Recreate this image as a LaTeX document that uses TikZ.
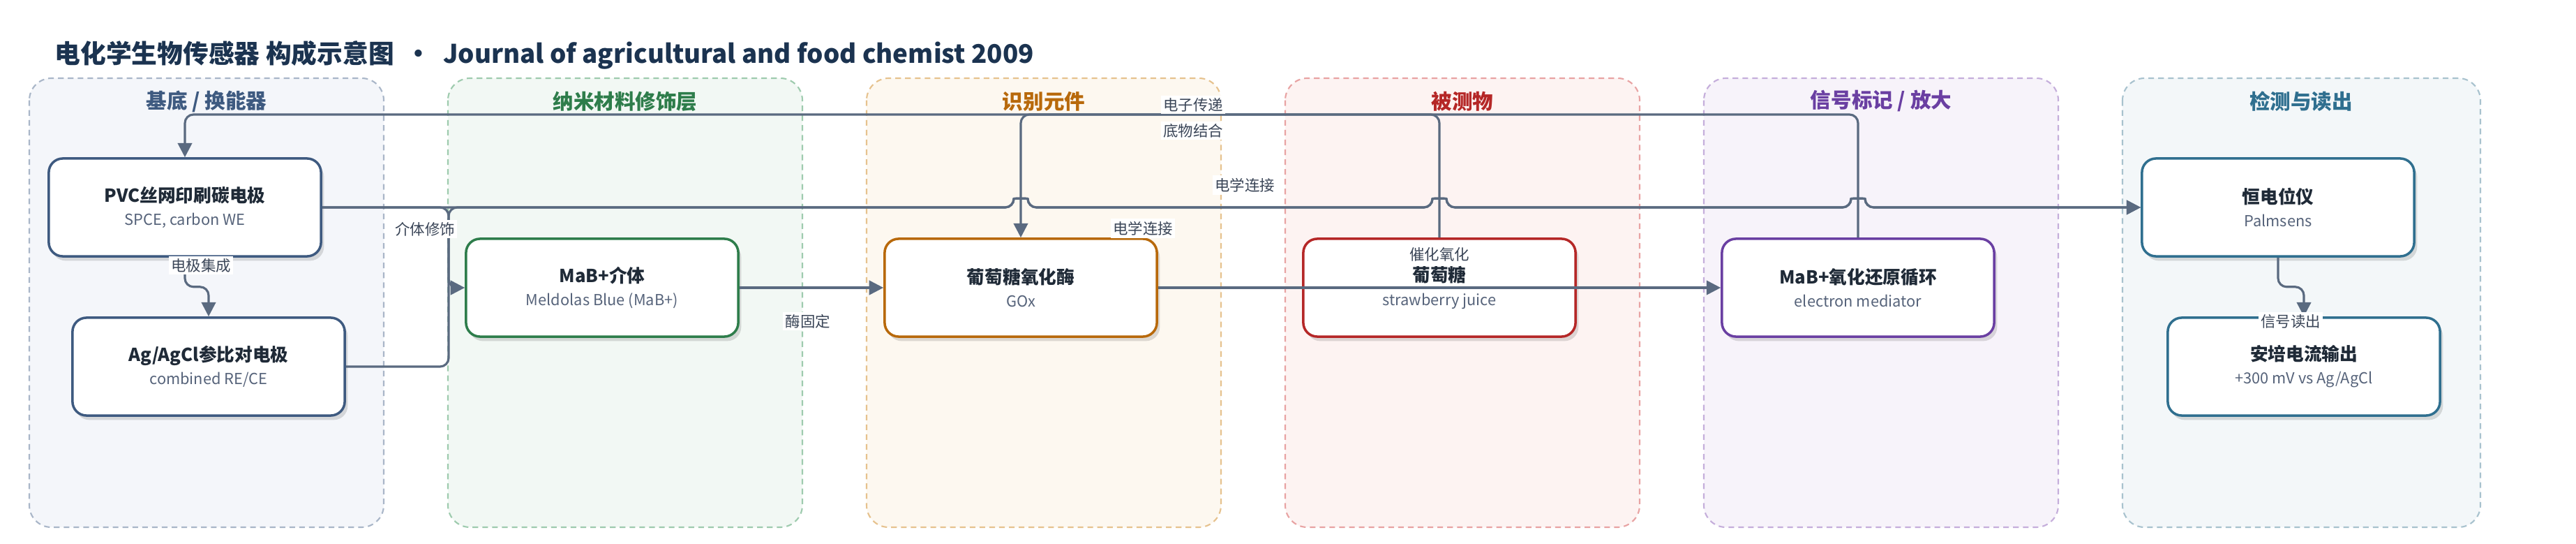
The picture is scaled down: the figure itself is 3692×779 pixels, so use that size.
\documentclass[tikz,border=0pt]{standalone}
\usepackage{fontspec}
\setmainfont{Noto Sans CJK SC}
\usepackage{tikz}
\usetikzlibrary{arrows.meta,positioning,calc,shadows}

\definecolor{titleink}{HTML}{1B3350}
\definecolor{nodeink}{HTML}{1F2A37}
\definecolor{subink}{HTML}{56637A}
\definecolor{labink}{HTML}{3A4557}
\definecolor{wire}{HTML}{5A6A80}
%% lane colours: fill / dash / head
\definecolor{laneAf}{HTML}{F4F6FA}\definecolor{laneAd}{HTML}{A9B6C8}\definecolor{laneAh}{HTML}{3E5A80}
\definecolor{laneBf}{HTML}{F2F8F4}\definecolor{laneBd}{HTML}{9ECBAE}\definecolor{laneBh}{HTML}{2E7D4B}
\definecolor{laneCf}{HTML}{FDF8F0}\definecolor{laneCd}{HTML}{E6C28E}\definecolor{laneCh}{HTML}{B8690B}
\definecolor{laneDf}{HTML}{FDF3F2}\definecolor{laneDd}{HTML}{E8A3A3}\definecolor{laneDh}{HTML}{B52727}
\definecolor{laneEf}{HTML}{F7F3FA}\definecolor{laneEd}{HTML}{C5AEDB}\definecolor{laneEh}{HTML}{6A3FA2}
\definecolor{laneFf}{HTML}{F3F7F9}\definecolor{laneFd}{HTML}{A8C2CE}\definecolor{laneFh}{HTML}{2F6F8F}

\newcommand\boxhead[1]{{\fontsize{7.3pt}{9.4pt}\selectfont\bfseries\color{nodeink}#1}}
\newcommand\boxsub[1]{{\color{subink}#1}}

\tikzset{
  lane/.style={line width=0.6pt,dash pattern=on 2.3pt off 1.7pt,rounded corners=9pt},
  lanehead/.style={font=\fontsize{8.4pt}{10pt}\selectfont\bfseries},
  stage/.style={rectangle,rounded corners=5.7pt,line width=1pt,fill=white,
    minimum width=3.9cm,minimum height=1.4cm,align=center,
    font=\fontsize{6.2pt}{9.4pt}\selectfont,
    drop shadow={shadow xshift=1.2pt,shadow yshift=-1.8pt,opacity=0.13,fill=black}},
  link/.style={draw=wire,line width=0.9pt,rounded corners=3.5pt},
  elab/.style={fill=white,inner sep=1pt,text=labink,font=\fontsize{6.1pt}{7pt}\selectfont}
}

\begin{document}
\begin{tikzpicture}[x=0.01cm,y=-0.01cm,>={Triangle[length=5.8pt,width=5.8pt]}]
\useasboundingbox (0,0) rectangle (3692,779);
\fill[white] (0,0) rectangle (3692,779);
\def\ytop{164}\def\ybus{297}

\node[anchor=west,inner sep=0pt,text=titleink,font=\fontsize{10.45pt}{12pt}\selectfont\bfseries] (title) at (78,79)
  {电化学生物传感器 构成示意图 \ · \ Journal of agricultural and food chemist 2009};

%%% lanes
\draw[lane,draw=laneAd,fill=laneAf] (42,112) rectangle (550,755);
\draw[lane,draw=laneBd,fill=laneBf] (642,112) rectangle (1150,755);
\draw[lane,draw=laneCd,fill=laneCf] (1242,112) rectangle (1750,755);
\draw[lane,draw=laneDd,fill=laneDf] (1842,112) rectangle (2350,755);
\draw[lane,draw=laneEd,fill=laneEf] (2442,112) rectangle (2950,755);
\draw[lane,draw=laneFd,fill=laneFf] (3042,112) rectangle (3555,755);
\node[lanehead,text=laneAh] (headA) at (296,145) {基底 / 换能器};
\node[lanehead,text=laneBh] (headB) at (896,145) {纳米材料修饰层};
\node[lanehead,text=laneCh] (headC) at (1496,145) {识别元件};
\node[lanehead,text=laneDh] (headD) at (2096,145) {被测物};
\node[lanehead,text=laneEh] (headE) at (2696,145) {信号标记 / 放大};
\node[lanehead,text=laneFh] (headF) at (3298,145) {检测与读出};

%%% stages
\node[stage,draw=laneAh] (pvc) at (265,297) {\boxhead{PVC丝网印刷碳电极}\\\boxsub{SPCE, carbon WE}};
\node[stage,draw=laneAh] (ref) at (299,525) {\boxhead{Ag/AgCl参比对电极}\\\boxsub{combined RE/CE}};
\node[stage,draw=laneBh] (mab) at (863,412) {\boxhead{MaB+介体}\\\boxsub{Meldolas Blue (MaB+)}};
\node[stage,draw=laneCh] (gox) at (1463,412) {\boxhead{葡萄糖氧化酶}\\\boxsub{GOx}};
\node[stage,draw=laneDh] (glu) at (2063,412) {\boxhead{葡萄糖}\\\boxsub{strawberry juice}};
\node[stage,draw=laneEh] (cyc) at (2663,412) {\boxhead{MaB+氧化还原循环}\\\boxsub{electron mediator}};
\node[stage,draw=laneFh] (pot) at (3265,297) {\boxhead{恒电位仪}\\\boxsub{Palmsens}};
\node[stage,draw=laneFh] (amp) at (3302,525) {\boxhead{安培电流输出}\\\boxsub{+300 mV vs Ag/AgCl}};

%%% wiring
\coordinate (tap) at (643,\ybus);
\def\hops{-- (1453,\ybus) .. controls (1453,284) and (1473,284) .. (1473,\ybus)
  -- (2053,\ybus) .. controls (2053,284) and (2073,284) .. (2073,\ybus)
  -- (2653,\ybus) .. controls (2653,284) and (2673,284) .. (2673,\ybus) -- (pot.west)}
\draw[link,->] (pvc.south) -- ++(0,42) -| (ref.north);
\draw[link,->] (pvc.east) -- (tap) |- (mab.west);
\draw[link,->] (pvc.east) \hops;
\draw[link,->] (ref.east) -| (tap) \hops;
\draw[link,->] (mab.east) -- (gox.west);
\draw[link,->] (gox.east) -- (cyc.west);
\draw[link,->] (glu.north) -- (glu.north |- 0,\ytop) -| (gox.north);
\draw[link,->] (cyc.north) -- (cyc.north |- 0,\ytop) -| (pvc.north);
\draw[link,->] (pot.south) -- ++(0,42) -| (amp.north);

%%% edge labels
\node[elab] (lbA) at (288,380) {电极集成};
\node[elab] (lbB) at (609,328) {介体修饰};
\node[elab] (lbC) at (1158,460) {酶固定};
\node[elab] (lbD) at (1710,150) {电子传递};
\node[elab] (lbE) at (1710,187) {底物结合};
\node[elab] (lbF) at (1784,265) {电学连接};
\node[elab] (lbG) at (1638,327) {电学连接};
\node[elab] (lbH) at (2063,364) {催化氧化};
\node[elab] (lbI) at (3283,460) {信号读出};
\end{tikzpicture}
\end{document}
